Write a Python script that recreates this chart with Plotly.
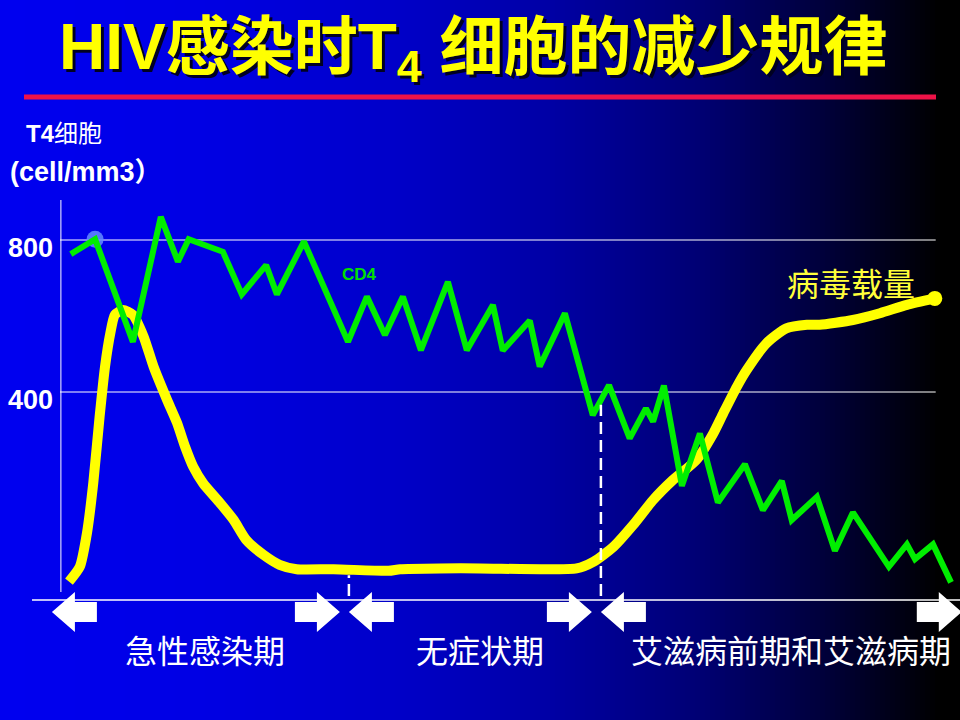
import plotly.graph_objects as go

# Schematic course of HIV infection (time axis in arbitrary units, 0-100)
CD4_T = [1.2, 3.9, 8.1, 11.2, 13.1, 14.3, 18.1, 20.2, 22.9, 24.1,
         27.1, 32.0, 34.1, 36.1, 38.1, 40.1, 43.1, 45.2, 48.1, 49.2,
         52.2, 53.3, 56.1, 59.2, 61.0, 63.3, 65.1, 65.9, 67.1, 69.1,
         71.1, 73.1, 76.1, 78.1, 80.2, 81.3, 84.1, 86.1, 88.1, 92.1,
         94.1, 95.0, 97.0, 99.0]
CD4 = [763, 802, 532, 861, 743, 802, 769, 657, 734, 657,
       796, 532, 651, 550, 651, 510, 690, 510, 629, 509,
       588, 467, 607, 339, 418, 278, 357, 322, 417, 153,
       291, 109, 210, 89, 166, 63, 124, -18, 83, -60,
       -1, -40, -1, -101]

# viral load, relative units
VL_T = [1.0, 2.2, 3.0, 3.7, 4.4, 5.0, 5.6, 6.1, 7.0, 8.1,
        9.3, 10.4, 11.9, 13.0, 13.9, 14.8, 15.9, 17.8, 19.3, 20.7,
        22.6, 24.4, 26.3, 30.4, 36.5, 37.8, 42.2, 46.7, 57.4, 59.3,
        61.5, 63.7, 65.9, 68.1, 70.7, 72.6, 73.7, 75.2, 76.3, 78.5,
        80.7, 83.0, 84.4, 88.1, 91.1, 94.1, 97.2]
VL = [4.6, 8.3, 16.8, 29.3, 45.8, 58.3, 66.8, 71.3, 72.5, 71.3,
      65.8, 58.3, 50.0, 44.3, 38.3, 33.3, 29.2, 24.2, 20.0, 15.0,
      11.3, 8.8, 7.7, 7.7, 7.3, 7.7, 7.9, 7.9, 7.9, 9.6,
      13.3, 18.8, 25.0, 30.0, 35.0, 41.7, 46.7, 53.3, 57.5, 64.2,
      67.9, 68.8, 68.8, 70.0, 71.7, 73.8, 75.4]

CD4_TICKS = [400, 800]
PHASES = ["急性感染期", "无症状期", "艾滋病前期和艾滋病期"]
PHASE_EDGES = [-0.9, 32.1, 60.1, 101.2]
DIVIDER_TOP = [6.2, 48.8]  # where the dashed dividers start (viral load units)

TITLE = "<b>HIV感染时T<sub>4</sub> 细胞的减少规律</b>"
W, H = 960, 720
FONT = "Liberation Sans, Arial, Noto Sans CJK SC"
CJK = "Noto Sans CJK SC, Liberation Sans"


def bg_blue(px):
    stops = [(0, 240), (200, 228), (400, 200), (550, 165), (700, 115),
             (820, 60), (910, 15), (940, 0), (960, 0)]
    for (a, ca), (b, cb) in zip(stops, stops[1:]):
        if a <= px <= b:
            return ca + (cb - ca) * (px - a) / (b - a)
    return 0


def text(s, x, y, size, color, family=FONT, xref="paper", yref="paper", xanchor="center", **kw):
    return dict(text=s, x=x, y=y, xref=xref, yref=yref, xanchor=xanchor, yanchor="middle",
                showarrow=False, font=dict(family=family, size=size, color=color), **kw)


shapes = []
# Background gradient, blue to black.
step = 5
for px in range(0, W, step):
    b = int(round(bg_blue(px + step / 2)))
    shapes.append(dict(type="rect", xref="paper", yref="paper",
                       x0=px / W, x1=(px + step + 1) / W, y0=0, y1=1,
                       fillcolor=f"rgb(0,0,{b})", line=dict(width=0), layer="below"))
# Red rule under the title.
shapes.append(dict(type="line", xref="paper", yref="paper", x0=24 / W, x1=936 / W,
                   y0=1 - 97 / H, y1=1 - 97 / H, line=dict(color="#EE1248", width=5)))
# Grid lines and the vertical axis.
for v in CD4_TICKS:
    shapes.append(dict(type="line", xref="x", yref="y2", x0=0, x1=97.3, y0=v, y1=v,
                       line=dict(color="white", width=1), layer="below"))
shapes.append(dict(type="line", xref="x", yref="paper", x0=0.1, x1=0.1,
                   y0=1 - 592 / H, y1=1 - 200 / H, line=dict(color="white", width=1)))
# Baseline.
shapes.append(dict(type="line", xref="paper", yref="paper", x0=32 / W, x1=1,
                   y0=1 - 600 / H, y1=1 - 600 / H, line=dict(color="white", width=1.5)))
# Dashed dividers between phases.
for edge, top in zip(PHASE_EDGES[1:-1], DIVIDER_TOP):
    shapes.append(dict(type="line", xref="x", yref="y", x0=edge, x1=edge, y0=-12.5, y1=top,
                       line=dict(color="white", width=2.5, dash="12px,6px")))
# Block arrows at both ends of each phase.
left_arrow = "M0,0 L23,20 L23,10 L45,10 L45,-10 L23,-10 L23,-20 Z"
right_arrow = "M-9,0 L-32,20 L-32,10 L-54,10 L-54,-10 L-32,-10 L-32,-20 Z"
for a, b in zip(PHASE_EDGES[:-1], PHASE_EDGES[1:]):
    for edge, path in ((a, left_arrow), (b, right_arrow)):
        shapes.append(dict(type="path", xref="x", yref="paper", xsizemode="pixel",
                           ysizemode="pixel", xanchor=edge, yanchor=1 - 612 / H, path=path,
                           fillcolor="white", line=dict(width=0)))

traces = []
# Viral load.
traces.append(go.Scatter(x=VL_T, y=VL, mode="lines", yaxis="y",
                         line=dict(color="#FFFF00", width=10, shape="spline", smoothing=0.6),
                         hoverinfo="skip"))
traces.append(go.Scatter(x=VL_T[-1:], y=VL[-1:], mode="markers", yaxis="y",
                         marker=dict(color="#FFFF00", size=15), hoverinfo="skip"))
# CD4 count.
traces.append(go.Scatter(x=CD4_T[1:2], y=CD4[1:2], mode="markers", yaxis="y2",
                         marker=dict(color="rgba(100,140,255,0.85)", size=17), hoverinfo="skip"))
traces.append(go.Scatter(x=CD4_T, y=CD4, mode="lines", yaxis="y2",
                         line=dict(color="#00EE00", width=6), hoverinfo="skip"))

annotations = [
    text(TITLE, 476 / W, 1 - 54 / H, 64, "#000022"),
    text(TITLE, 473 / W, 1 - 51 / H, 64, "#FFFF00"),
    text("<b>T4</b>细胞", 24 / W, 1 - 133 / H, 24, "white", xanchor="left"),
    text("<b>(cell/mm3）</b>", 8 / W, 1 - 172 / H, 27, "white", xanchor="left"),
    text("<b>CD4</b>", 33.3, 708, 17, "#00E000", xref="x", yref="y2"),
    text("病毒载量", 87.9, 79.5, 32, "#FFFF3A", family=CJK, xref="x", yref="y"),
]
for v in CD4_TICKS:
    annotations.append(text(f"<b>{v}</b>", 0, v, 27, "white", xref="x", yref="y2",
                            xanchor="right", xshift=-5, yshift=-8))
for name, a, b in zip(PHASES, PHASE_EDGES[:-1], PHASE_EDGES[1:]):
    annotations.append(text(name, (a + b) / 2, 1 - 649 / H, 32, "white", family=CJK,
                            xref="x", xshift=5))

layout = go.Layout(
    width=W,
    height=H,
    margin=dict(l=0, r=0, t=0, b=0),
    paper_bgcolor="#000000",
    plot_bgcolor="rgba(0,0,0,0)",
    showlegend=False,
    # x = 0 sits where the vertical axis is drawn (60 px from the left edge)
    xaxis=dict(domain=[0, 1], range=[-6.667, 100], visible=False),
    yaxis=dict(domain=[1 - 600 / H, 1 - 200 / H], range=[0, 100], visible=False),
    yaxis2=dict(overlaying="y", range=[-147.4, 905.3], visible=False),
    shapes=shapes,
    annotations=annotations,
)

fig = go.Figure(data=traces, layout=layout)
fig.write_html("out.html", config={"displayModeBar": False},
               post_script="document.body.style.margin='0';"
               "document.body.style.overflow='hidden';")
